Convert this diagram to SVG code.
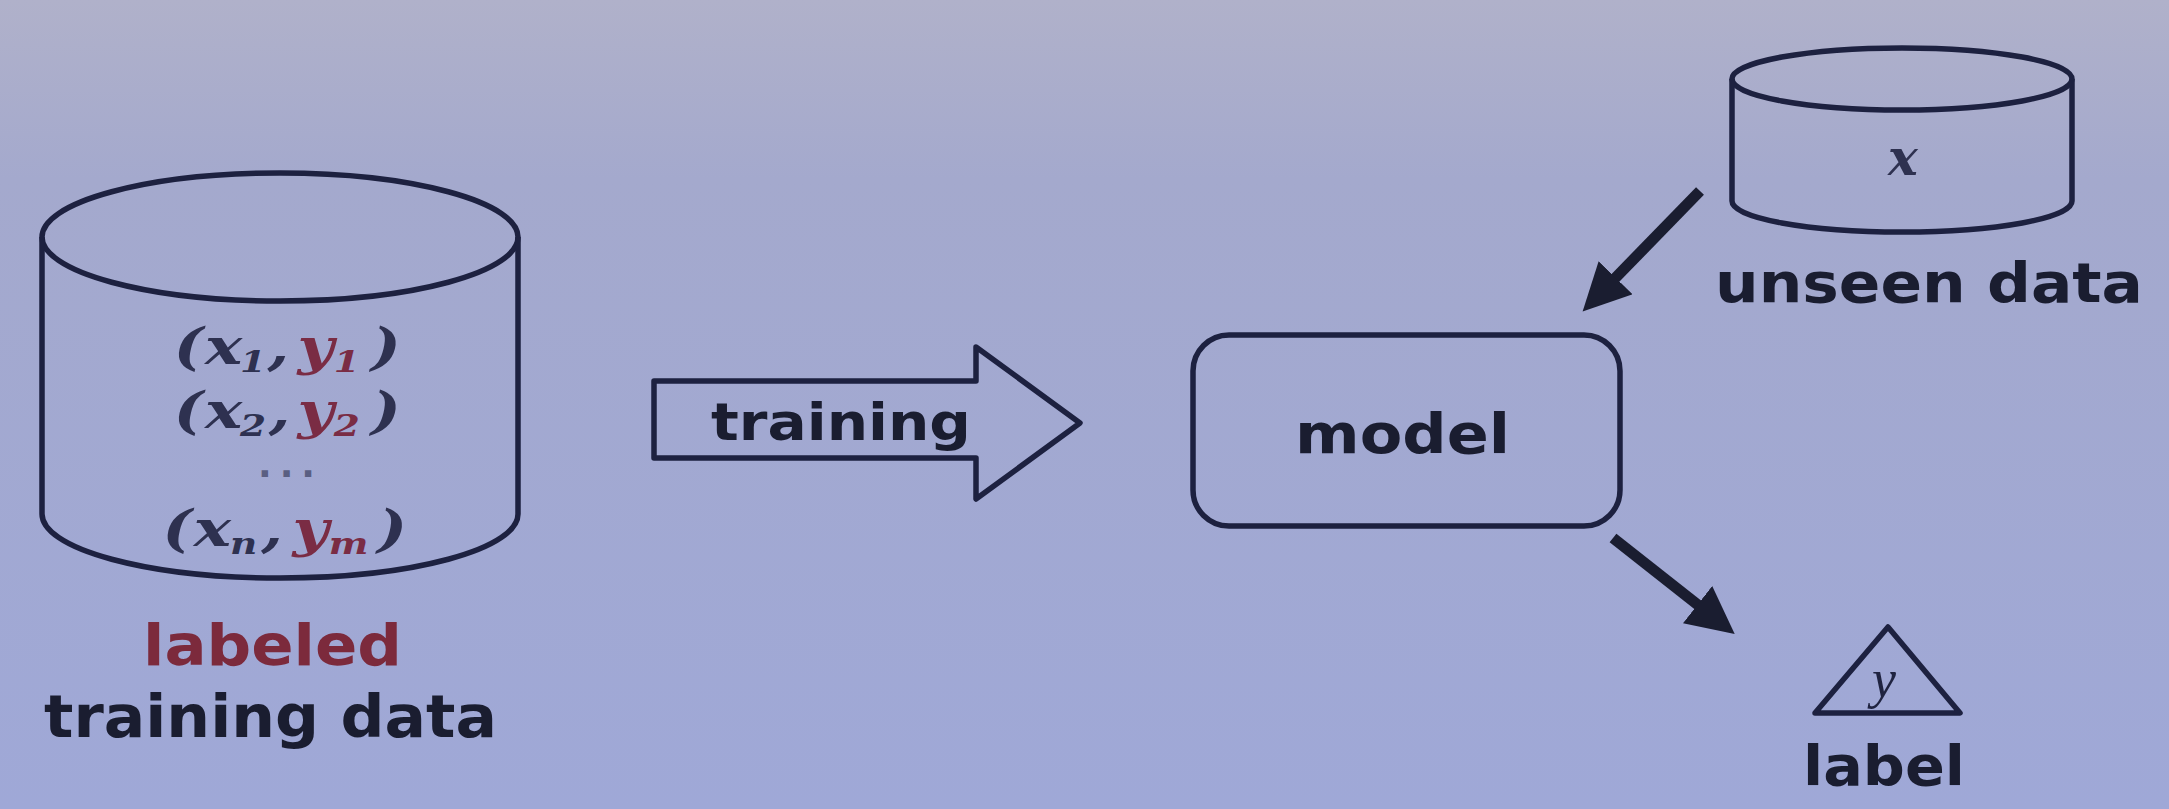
<svg xmlns="http://www.w3.org/2000/svg" width="2169" height="809" viewBox="0 0 2169 809">
<defs>
<linearGradient id="bg" x1="0" y1="0" x2="0" y2="1">
<stop offset="0" stop-color="#b0b1ca"/>
<stop offset="0.22" stop-color="#a4a9cd"/>
<stop offset="1" stop-color="#9fa8d7"/>
</linearGradient>
<marker id="ah" viewBox="0 0 10 10" refX="2" refY="5" markerWidth="4.3" markerHeight="4.3" orient="auto" markerUnits="strokeWidth">
<path d="M0,0 L10,5 L0,10 z" fill="#1a1d30"/>
</marker>
<style>
.ln{fill:none;stroke:#1d2140;stroke-width:5.5;stroke-linejoin:round}
.lbl{font-family:"DejaVu Sans","Liberation Sans",sans-serif;font-weight:700;fill:#1a1d30}
.red{fill:#7c2a3c}
.m{font-family:"DejaVu Serif","Liberation Serif",serif;font-weight:700;font-style:italic;font-size:50px;fill:#2e3150}
.m .y{fill:#7a2c44}
.sub{font-size:30px}
.conn{fill:none;stroke:#1a1d30;stroke-width:11;marker-end:url(#ah)}
</style>
</defs>
<rect width="2169" height="809" fill="url(#bg)"/>

<g id="labeled-training-data">
<ellipse class="ln" cx="280" cy="237" rx="238" ry="64"/>
<path class="ln" d="M42,237 V514 A238,64 0 0 0 518,514 V237"/>
<g transform="translate(285,0) scale(1.25,1) translate(-285,0)">
<text class="m"><tspan x="196" y="364">(</tspan><tspan x="221" y="364">x</tspan><tspan class="sub" x="249" y="372">1</tspan><tspan x="271" y="364">,</tspan><tspan class="y" x="295" y="364">y</tspan><tspan class="sub y" x="324" y="372">1</tspan><tspan x="354" y="364">)</tspan></text>
<text class="m"><tspan x="196" y="428">(</tspan><tspan x="221" y="428">x</tspan><tspan class="sub" x="249" y="436">2</tspan><tspan x="272" y="428">,</tspan><tspan class="y" x="295" y="428">y</tspan><tspan class="sub y" x="324" y="436">2</tspan><tspan x="354" y="428">)</tspan></text>
<text class="m"><tspan x="187" y="546">(</tspan><tspan x="212" y="546">x</tspan><tspan class="sub" x="241" y="554">n</tspan><tspan x="266" y="546">,</tspan><tspan class="y" x="291" y="546">y</tspan><tspan class="sub y" x="320" y="554">m</tspan><tspan x="359" y="546">)</tspan></text>
</g>
<text x="258" y="477" font-family="DejaVu Sans, sans-serif" font-weight="700" font-size="36" letter-spacing="8" fill="#5a5f82">...</text>
<text class="lbl red" x="143" y="665" font-size="57" textLength="259" lengthAdjust="spacingAndGlyphs">labeled</text>
<text class="lbl" x="44" y="737" font-size="58" textLength="453" lengthAdjust="spacingAndGlyphs">training data</text>
</g>

<g id="training-arrow">
<path class="ln" d="M654,381 H976 V347 L1080,423 L976,499 V458 H654 Z"/>
<text class="lbl" x="711" y="440" font-size="52" textLength="260" lengthAdjust="spacingAndGlyphs">training</text>
</g>

<g id="model">
<rect class="ln" x="1193" y="335" width="427" height="191" rx="36"/>
<text class="lbl" x="1295" y="453" font-size="56" textLength="215" lengthAdjust="spacingAndGlyphs">model</text>
</g>

<g id="unseen-data">
<ellipse class="ln" cx="1902" cy="79" rx="170" ry="31"/>
<path class="ln" d="M1732,79 V201 A170,31 0 0 0 2072,201 V79"/>
<text class="m" x="1903" y="175" text-anchor="middle" font-size="38">x</text>
<text class="lbl" x="1715" y="302" font-size="56" textLength="428" lengthAdjust="spacingAndGlyphs">unseen data</text>
</g>

<g id="label">
<path class="ln" d="M1888,627 L1960,713 L1815,713 Z"/>
<text x="1884" y="697" text-anchor="middle" font-family="Liberation Serif, serif" font-style="italic" font-size="54" fill="#1f2340">y</text>
<text class="lbl" x="1803" y="785" font-size="56" textLength="162" lengthAdjust="spacingAndGlyphs">label</text>
</g>

<g id="connectors">
<line class="conn" x1="1700" y1="191" x2="1609" y2="284.5"/>
<line class="conn" x1="1613" y1="538" x2="1705" y2="610.5"/>
</g>
</svg>
